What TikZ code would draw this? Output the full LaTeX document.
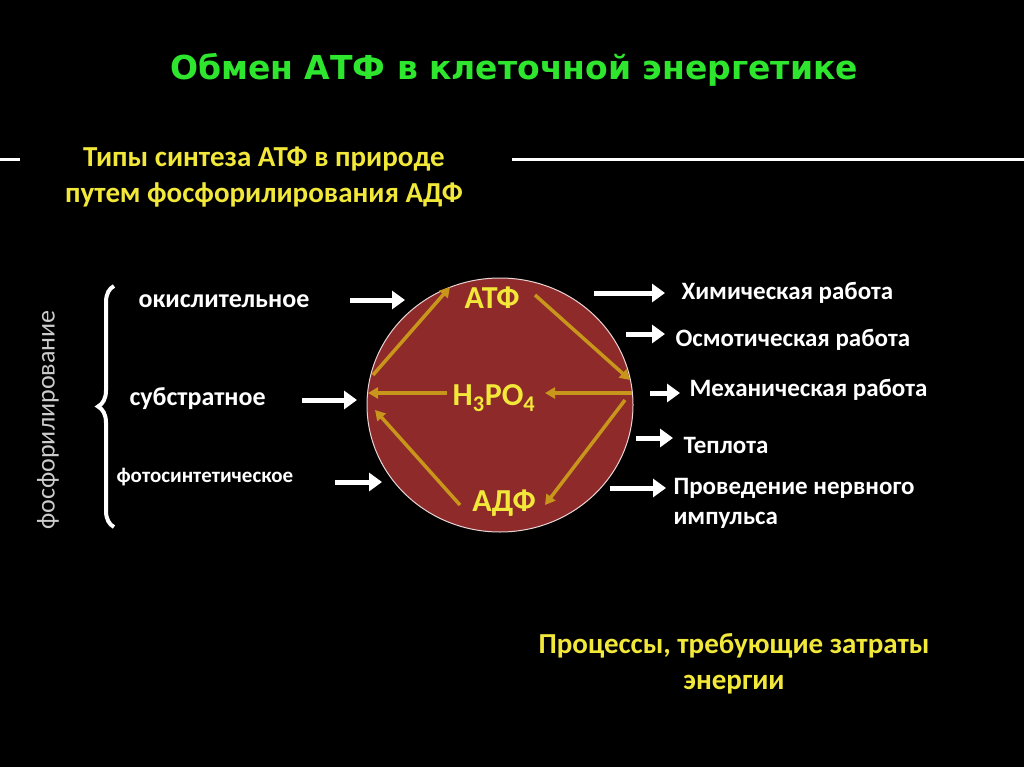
\documentclass[tikz,border=0pt]{standalone}
\usepackage{fontspec}
\setmainfont{Carlito}
\newfontfamily\ttlfont{DejaVu Sans}
\usetikzlibrary{arrows.meta,decorations.pathreplacing,calc}
\definecolor{ttl}{HTML}{2EE62E}
\definecolor{yel}{HTML}{F2E83A}
\definecolor{gold}{HTML}{C8961A}
\definecolor{cir}{HTML}{8E2A2A}
\tikzset{
 wa/.style={white,line width=5pt,-{Triangle[length=13pt,width=18pt]}},
 ga/.style={gold,line width=3.5pt,-{Triangle[length=10pt,width=11pt]}},
 lab/.style={white,font=\fontsize{25}{30}\selectfont\bfseries,anchor=west,align=left},
 inl/.style={yel,font=\fontsize{32}{34}\selectfont\bfseries}
}
\begin{document}
\begin{tikzpicture}[x=1pt,y=-1pt]
\fill[black] (0,0) rectangle (1024,767);
\useasboundingbox (0,0) rectangle (1024,767);
\node[ttl,font=\ttlfont\fontsize{33}{38}\selectfont\bfseries] (title) at (514,70) {Обмен АТФ в клеточной энергетике};
\draw[white,line width=3pt] (0,160) coordinate (l1) -- (20,160) coordinate (l2);
\draw[white,line width=3pt] (512,160) coordinate (r1) -- (1024,160) coordinate (r2);
\node[yel,font=\fontsize{29}{36}\selectfont\bfseries,align=center] (sub) at (264,177) {Типы синтеза АТФ в природе\\путем фосфорилирования АДФ};
\draw[fill=cir,draw=white!80!cir,line width=1pt] (500,405) ellipse (133 and 127);
\node[inl] (atf) at (492,298) {АТФ};
\node[inl] (h) at (494,398) {H\textsubscript{3}PO\textsubscript{4}};
\node[inl] (adf) at (504,503) {АДФ};
\coordinate (L) at (368,393); \coordinate (R) at (632,393);
\coordinate (hw) at (447,393); \coordinate (he) at (545,393);
\draw[ga] (373,375) -- (450,287);
\draw[ga] (535,295) -- (630,380);
\draw[ga] (hw) -- (L);
\draw[ga] (R) -- (he);
\draw[ga] (625,400) -- (545,505);
\draw[ga] (460,505) -- (375,410);
\node[lab,font=\fontsize{26}{30}\selectfont\bfseries] (ok) at (135,301) {окислительное};
\node[lab,font=\fontsize{26}{30}\selectfont\bfseries] (su) at (126,399) {субстратное};
\node[lab,font=\fontsize{21}{24}\selectfont\bfseries] (fo) at (113,477) {фотосинтетическое};
\draw[wa] (350,300) -- (405,300);
\draw[wa] (302,400) -- (357,400);
\draw[wa] (335,482) -- (382,482);
\draw[white,line width=4pt,decorate,decoration={brace,amplitude=16pt}] (114,527) -- (114,286);
\node[white!80!black,rotate=90,font=\fontsize{26}{30}\selectfont] (fos) at (48,420) {фосфорилирование};
\node[lab] (c1) at (678,293) {Химическая работа};
\node[lab] (c2) at (672,340) {Осмотическая работа};
\node[lab] (c3) at (686,390) {Механическая работа};
\node[lab] (c4) at (680,445) {Теплота};
\node[lab,align=left] (c5) at (670,503) {Проведение нервного\\импульса};
\draw[wa] (594,293) -- (665,293);
\draw[wa] (626,334) -- (665,334);
\draw[wa] (650,393) -- (680,393);
\draw[wa] (636,438) -- (673,438);
\draw[wa] (610,488) -- (666,488);
\node[yel,font=\fontsize{29}{36}\selectfont\bfseries,align=center] (pr) at (734,664) {Процессы, требующие затраты\\энергии};
\end{tikzpicture}
\end{document}
